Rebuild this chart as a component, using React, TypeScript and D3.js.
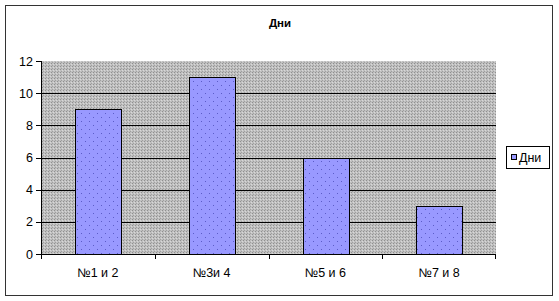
import React from "react";
import * as d3 from "d3";

const categories = ["№1 и 2", "№3и 4", "№5 и 6", "№7 и 8"];
const values = [9, 11, 6, 3];
const yTicks = [0, 2, 4, 6, 8, 10, 12];
const seriesName = "Дни";
const title = "Дни";

const W = 559;
const H = 301;
const plot = { left: 41, top: 61, right: 496, bottom: 254 };
const font = "'Liberation Sans', Arial, sans-serif";

export default function App() {
  const x = d3
    .scaleBand<string>()
    .domain(categories)
    .range([plot.left, plot.right])
    .paddingInner(0.6)
    .paddingOuter(0.3);
  const band = d3.scaleBand<string>().domain(categories).range([plot.left, plot.right]);
  const y = d3.scaleLinear().domain([0, 12]).range([plot.bottom, plot.top]);

  return (
    <svg
      width={W}
      height={H}
      style={{ position: "fixed", left: 0, top: 0, background: "#fff" }}
      fontFamily={font}
    >
      <defs>
        <pattern id="grayPat" width="3" height="3" patternUnits="userSpaceOnUse">
          <rect width="3" height="3" fill="#c0c0c0" />
          <rect x="0" y="0" width="1" height="1" fill="#909090" />
          <rect x="2" y="1" width="1" height="1" fill="#d8d8d8" />
          <rect x="1" y="2" width="1" height="1" fill="#a0a0a0" />
        </pattern>
        <pattern id="barPat" width="8" height="8" patternUnits="userSpaceOnUse">
          <rect width="8" height="8" fill="#9999ff" />
          <rect x="1" y="1" width="1" height="1" fill="#5c5cc8" />
          <rect x="5" y="5" width="1" height="1" fill="#5c5cc8" />
        </pattern>
      </defs>
      <rect x={5.5} y={5.5} width={547} height={290} fill="#fff" stroke="#333" strokeWidth={1} />
      <text x={280} y={27} textAnchor="middle" fontSize={11.5} fontWeight="bold">
        {title}
      </text>
      <rect
        x={plot.left}
        y={plot.top}
        width={plot.right - plot.left}
        height={plot.bottom - plot.top}
        fill="url(#grayPat)"
      />
      {yTicks
        .filter((t) => t > 0 && t < 12)
        .map((t) => (
          <line
            key={"g" + t}
            x1={plot.left}
            x2={plot.right}
            y1={Math.round(y(t)) + 0.5}
            y2={Math.round(y(t)) + 0.5}
            stroke="#000"
            strokeWidth={1}
          />
        ))}
      {categories.map((c, i) => (
        <rect
          key={c}
          x={Math.round(x(c)!) + 0.5}
          y={Math.round(y(values[i])) + 0.5}
          width={Math.round(x.bandwidth())}
          height={Math.round(y(0)) - Math.round(y(values[i]))}
          fill="url(#barPat)"
          stroke="#000"
          strokeWidth={1}
        />
      ))}
      <line x1={plot.left + 0.5} x2={plot.left + 0.5} y1={plot.top} y2={plot.bottom + 1} stroke="#000" />
      {yTicks.map((t) => (
        <g key={"y" + t}>
          <line
            x1={plot.left - 5}
            x2={plot.left}
            y1={Math.round(y(t)) + 0.5}
            y2={Math.round(y(t)) + 0.5}
            stroke="#000"
          />
          <text x={33} y={y(t) + 4.5} textAnchor="end" fontSize={12.5}>
            {t}
          </text>
        </g>
      ))}
      <line x1={plot.left} x2={plot.right} y1={plot.bottom + 0.5} y2={plot.bottom + 0.5} stroke="#000" />
      {categories.map((c) => (
        <line
          key={"xt" + c}
          x1={Math.round(band(c)!) + 0.5}
          x2={Math.round(band(c)!) + 0.5}
          y1={plot.bottom}
          y2={plot.bottom + 5}
          stroke="#000"
        />
      ))}
      <line
        x1={plot.right - 0.5}
        x2={plot.right - 0.5}
        y1={plot.bottom}
        y2={plot.bottom + 5}
        stroke="#000"
      />
      {categories.map((c) => (
        <text
          key={"xl" + c}
          x={band(c)! + band.bandwidth() / 2}
          y={277}
          textAnchor="middle"
          fontSize={12.5}
        >
          {c}
        </text>
      ))}
      <rect x={506.5} y={146.5} width={43} height={22} fill="#fff" stroke="#000" />
      <rect x={511.5} y={154.5} width={5} height={5} fill="#9999ff" stroke="#000" />
      <text x={519} y={162} fontSize={12.5}>
        {seriesName}
      </text>
    </svg>
  );
}
